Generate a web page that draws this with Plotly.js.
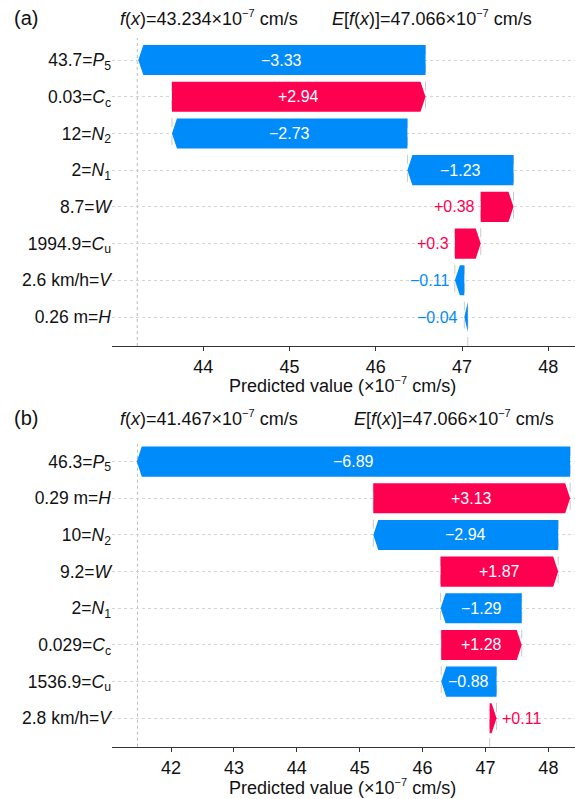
<!DOCTYPE html>
<html><head><meta charset="utf-8">
<script src="https://cdn.plot.ly/plotly-3.0.1.min.js"></script>
<style>html,body{margin:0;padding:0;background:#fff}</style>
</head><body>
<div id="chart" style="width:575px;height:799px"></div>
<script>
// ---- Data (features listed top to bottom) ----
const featuresA = ["43.7=<i>P</i><sub>5</sub>", "0.03=<i>C</i><sub>c</sub>", "12=<i>N</i><sub>2</sub>", "2=<i>N</i><sub>1</sub>",
                   "8.7=<i>W</i>", "1994.9=<i>C</i><sub>u</sub>", "2.6 km/h=<i>V</i>", "0.26 m=<i>H</i>"];
const shapA = [-3.33, 2.94, -2.73, -1.23, 0.38, 0.3, -0.11, -0.04];
const fxA = 43.234;
const baseA = 47.066;
const xTicksA = [44, 45, 46, 47, 48];

const featuresB = ["46.3=<i>P</i><sub>5</sub>", "0.29 m=<i>H</i>", "10=<i>N</i><sub>2</sub>", "9.2=<i>W</i>",
                   "2=<i>N</i><sub>1</sub>", "0.029=<i>C</i><sub>c</sub>", "1536.9=<i>C</i><sub>u</sub>", "2.8 km/h=<i>V</i>"];
const shapB = [-6.89, 3.13, -2.94, 1.87, -1.29, 1.28, -0.88, 0.11];
const fxB = 41.467;
const baseB = 47.066;
const xTicksB = [42, 43, 44, 45, 46, 47, 48];

// ---- Styling / layout ----
const W = 575, H = 799;
const RED = '#ff0051', BLUE = '#008bfb';
const FONT = 'Arial, "Liberation Sans", sans-serif';
const TXT = '#111';
const xDomPx = [112, 575];
const px = v => v / W;
const py = v => 1 - v / H;
const EXP = '×10<sup><span style="font-size:11px">\u22127</span></sup>';

const panels = [
  {tag: '(a)', feats: featuresA, vals: shapA, fx: fxA, base: baseA, ticks: xTicksA,
   xr: [42.941, 48.309], yr: [-0.79, 7.6], domPx: [38, 346], outside: 'left',
   titleY: 18, fxX: 118, eX: 330, xTitleY: 385, xa: 'x', ya: 'y'},
  {tag: '(b)', feats: featuresB, vals: shapB, fx: fxB, base: baseB, ticks: xTicksB,
   xr: [41.062, 48.423], yr: [-0.775, 7.48], domPx: [444, 746.7], outside: 'right',
   titleY: 418, fxX: 118, eX: 352, xTitleY: 787, xa: 'x2', ya: 'y2'}
];

const traces = [], annotations = [], shapes = [];
const layout = {
  width: W, height: H, margin: {l: 0, r: 0, t: 0, b: 0},
  paper_bgcolor: '#fff', plot_bgcolor: '#fff', showlegend: false,
  font: {family: FONT, color: TXT}
};

panels.forEach((p, pi) => {
  const n = p.vals.length;
  const pxPerUnit = (xDomPx[1] - xDomPx[0]) / (p.xr[1] - p.xr[0]);
  const head = 5 / pxPerUnit;
  const hh = 0.41;
  const xKey = pi === 0 ? 'xaxis' : 'xaxis2';
  const yKey = pi === 0 ? 'yaxis' : 'yaxis2';
  const xref = p.xa, yref = p.ya;

  let cur = p.base;
  for (let k = n - 1; k >= 0; k--) {
    const r = n - 1 - k;
    const v = p.vals[k];
    const s = cur, e = cur + v;
    const hl = Math.min(head, Math.abs(v));
    let xs;
    if (v > 0) xs = [s, e - hl, e, e - hl, s, s];
    else xs = [s, e + hl, e, e + hl, s, s];
    const ys = [r - hh, r - hh, r, r + hh, r + hh, r - hh];
    const col = v > 0 ? RED : BLUE;
    traces.push({type: 'scatter', mode: 'lines', x: xs, y: ys, fill: 'toself',
      fillcolor: col, line: {width: 0, color: col}, xaxis: xref, yaxis: yref,
      hoverinfo: 'skip', showlegend: false});

    // connector line at bar start
    if (r >= 1) {
      shapes.push({type: 'line', xref: xref, yref: yref, x0: s, x1: s, y0: r + 0.4, y1: r - 1 - 0.4,
        line: {color: '#bbbbbb', width: 0.8, dash: 'dash'}, layer: 'below'});
    }

    const label = (v > 0 ? '+' : '\u2212') + String(Math.abs(v));
    if (Math.abs(v) * pxPerUnit > 45) {
      annotations.push({xref: xref, yref: yref, x: (s + e) / 2, y: r, text: label, showarrow: false,
        xanchor: 'center', yanchor: 'middle', font: {size: 16, color: '#fff', family: FONT}});
    } else if (p.outside === 'left') {
      annotations.push({xref: xref, yref: yref, x: Math.min(s, e), y: r, text: label, showarrow: false,
        xanchor: 'right', yanchor: 'middle', xshift: -4, font: {size: 16, color: col, family: FONT}});
    } else {
      annotations.push({xref: xref, yref: yref, x: Math.max(s, e), y: r, text: label, showarrow: false,
        xanchor: 'left', yanchor: 'middle', xshift: 3, font: {size: 16, color: col, family: FONT}});
    }
    cur = e;
  }

  // f(x) line and base value line
  shapes.push({type: 'line', xref: xref, yref: yref + ' domain', x0: p.fx, x1: p.fx, y0: 0, y1: 1,
    line: {color: '#bbbbbb', width: 1, dash: 'dot'}, layer: 'below'});
  shapes.push({type: 'line', xref: xref, yref: yref + ' domain', x0: p.base, x1: p.base, y0: 0, y1: 1 / n,
    line: {color: '#bbbbbb', width: 0.8, dash: 'dash'}, layer: 'below'});

  layout[xKey] = {
    domain: [px(xDomPx[0]), 1], range: p.xr, anchor: yref,
    showline: true, linecolor: '#333', linewidth: 1.3, mirror: false,
    ticks: 'outside', ticklen: 4, tickcolor: '#333', tickwidth: 1,
    tickvals: p.ticks, ticktext: p.ticks.map(String),
    showgrid: false, zeroline: false, fixedrange: true,
    tickfont: {size: 18, family: FONT, color: TXT}, ticklabelstandoff: 0
  };
  const tv = [], tt = [];
  for (let r = 0; r < n; r++) { tv.push(r); tt.push(p.feats[n - 1 - r]); }
  layout[yKey] = {
    domain: [py(p.domPx[1]), py(p.domPx[0])], range: p.yr, anchor: xref,
    tickvals: tv, ticktext: tt, showgrid: true, gridcolor: '#d4d4d4', griddash: 'dot', gridwidth: 1,
    zeroline: false, showline: false, ticks: '', fixedrange: true,
    tickfont: {size: 17.5, family: FONT, color: TXT}, ticklabelstandoff: 0
  };

  // Titles
  annotations.push({xref: 'paper', yref: 'paper', x: px(12), y: py(p.titleY), text: p.tag, showarrow: false,
    xanchor: 'left', yanchor: 'middle', font: {size: 20, family: FONT, color: TXT}});
  annotations.push({xref: 'paper', yref: 'paper', x: px(p.fxX), y: py(p.titleY),
    text: '<i>f</i>(<i>x</i>)=' + p.fx.toFixed(3) + EXP + ' cm/s', showarrow: false,
    xanchor: 'left', yanchor: 'middle', font: {size: 18, family: FONT, color: TXT}});
  annotations.push({xref: 'paper', yref: 'paper', x: px(p.eX), y: py(p.titleY),
    text: '<i>E</i>[<i>f</i>(<i>x</i>)]=' + p.base.toFixed(3) + EXP + ' cm/s', showarrow: false,
    xanchor: 'left', yanchor: 'middle', font: {size: 18, family: FONT, color: TXT}});
  annotations.push({xref: 'paper', yref: 'paper', x: px(342), y: py(p.xTitleY),
    text: 'Predicted value (' + EXP + ' cm/s)', showarrow: false,
    xanchor: 'center', yanchor: 'middle', font: {size: 18, family: FONT, color: TXT}});
});

layout.annotations = annotations;
layout.shapes = shapes;

Plotly.newPlot('chart', traces, layout, {staticPlot: true, displayModeBar: false});
</script>
</body></html>
